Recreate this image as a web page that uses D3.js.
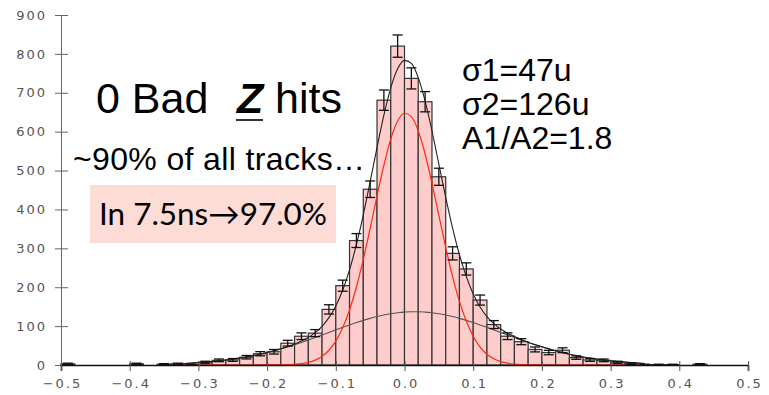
<!DOCTYPE html>
<html>
<head>
<meta charset="utf-8">
<script src="https://cdn.jsdelivr.net/npm/d3@7"></script>
<style>
  html, body { margin: 0; padding: 0; background: #fff; }
  svg { display: block; }
</style>
</head>
<body>
<svg id="chart"></svg>
<script>
// histogram: 50 bins of width 0.02 from -0.5 to 0.5
const binWidth = 0.02;
const binLow = d3.range(50).map(i => (-50 + i * 2) / 100);
const counts = [
  3, 0, 0, 0, 0, 3, 0, 2, 3, 1,
  7, 12, 13, 20, 29, 34, 56, 74, 82, 143,
  204, 320, 452, 681, 820, 737, 677, 484, 287, 247,
  167, 104, 74, 60, 40, 32, 38, 19, 13, 12,
  7, 3, 1, 1, 1, 0, 2, 0, 0, 0
];

// fitted curves, sampled every 0.01 from -0.33 to 0.35
const fitX = d3.range(69).map(i => (-33 + i) / 100);
const narrowFit = [
  0, 0, 0, 0, 0, 0, 0, 0, 0, 0, 0, 0, 0,
  0.1, 0.2, 0.4, 0.8, 1.7, 3.5, 6.8, 12.6, 22.3, 37.9,
  61.5, 95.5, 141.5, 200.5, 271.5, 351.4, 434.7, 513.9, 580.8, 627.2,
  647.4, 638.7, 602.2, 542.6, 467.4, 384.7, 302.6, 227.5, 163.5, 112.3,
  73.7, 46.2, 27.7, 15.9, 8.7, 4.6, 2.3, 1.1, 0.5, 0.2, 0.1,
  0, 0, 0, 0, 0, 0, 0, 0, 0, 0, 0, 0, 0, 0, 0
];
const wideFit = [
  3.2, 4.0, 4.9, 6.0, 7.3, 8.8, 10.6, 12.7, 15.0, 17.7, 20.7, 24.1, 27.8,
  31.9, 36.5, 41.4, 46.6, 52.2, 58.1, 64.3, 70.7, 77.2, 83.8,
  90.3, 96.8, 103.1, 109.1, 114.8, 119.9, 124.5, 128.5, 131.8, 134.3,
  136.0, 136.9, 136.9, 136.0, 134.3, 131.8, 128.5, 124.5, 119.9, 114.8,
  109.1, 103.1, 96.8, 90.3, 83.8, 77.2, 70.7, 64.3, 58.1, 52.2, 46.6,
  41.4, 36.5, 31.9, 27.8, 24.1, 20.7, 17.7, 15.0, 12.7, 10.6, 8.8, 7.3, 6.0, 4.9, 4.0
];
const totalFit = [
  3.2, 4.0, 4.9, 6.0, 7.3, 8.8, 10.6, 12.7, 15.0, 17.7, 20.7, 24.1, 27.8,
  32.0, 36.7, 41.8, 47.4, 53.9, 61.6, 71.1, 83.3, 99.5, 121.7,
  151.8, 192.3, 244.6, 309.6, 386.3, 471.3, 559.2, 642.4, 712.6, 761.5,
  783.4, 775.6, 739.1, 678.6, 601.7, 516.5, 431.1, 352.0, 283.4, 227.1,
  182.8, 149.3, 124.5, 106.2, 92.5, 81.8, 73.0, 65.4, 58.6, 52.4, 46.7,
  41.4, 36.5, 31.9, 27.8, 24.1, 20.7, 17.7, 15.0, 12.7, 10.6, 8.8, 7.3, 6.0, 4.9, 4.0
];

const xTicks = [-0.5, -0.4, -0.3, -0.2, -0.1, 0.0, 0.1, 0.2, 0.3, 0.4, 0.5];
const yTicks = [0, 100, 200, 300, 400, 500, 600, 700, 800, 900];

const width = 769, height = 395;
const svg = d3.select("#chart").attr("width", width).attr("height", height);

const x = d3.scaleLinear().domain([-0.5, 0.5]).range([61, 748]);
const y = d3.scaleLinear().domain([0, 900]).range([365, 15]);

// bars
const bins = binLow.map((lo, i) => ({ lo, n: counts[i] })).filter(d => d.n > 0);
svg.append("g")
  .selectAll("rect")
  .data(bins)
  .join("rect")
  .attr("x", d => x(d.lo))
  .attr("y", d => y(d.n))
  .attr("width", d => x(d.lo + binWidth) - x(d.lo))
  .attr("height", d => y(0) - y(d.n))
  .attr("fill", "#ffcccc")
  .attr("stroke", "#333")
  .attr("stroke-width", 1.2);

// fit curves
const fitLine = (vals) => d3.line()
  .x((d, i) => x(fitX[i]))
  .y(d => y(d))
  .curve(d3.curveMonotoneX)(vals);

svg.append("path").attr("d", fitLine(wideFit))
  .attr("fill", "none").attr("stroke", "#555").attr("stroke-width", 1.1);
svg.append("path").attr("d", fitLine(narrowFit))
  .attr("fill", "none").attr("stroke", "#ff2a10").attr("stroke-width", 1.2);
svg.append("path").attr("d", fitLine(totalFit))
  .attr("fill", "none").attr("stroke", "#222").attr("stroke-width", 1.1);

// error bars (sqrt N)
const eb = svg.append("g").attr("stroke", "#111").attr("stroke-width", 1.3);
bins.forEach(d => {
  const cx = x(d.lo + binWidth / 2);
  const e = Math.sqrt(d.n);
  const y1 = y(d.n + e), y2 = y(Math.max(0, d.n - e));
  eb.append("line").attr("x1", cx).attr("x2", cx).attr("y1", y1).attr("y2", y2);
  eb.append("line").attr("x1", cx - 5).attr("x2", cx + 5).attr("y1", y1).attr("y2", y1);
  eb.append("line").attr("x1", cx - 5).attr("x2", cx + 5).attr("y1", y2).attr("y2", y2);
});

// axes
const tickFont = g => g.selectAll("text")
  .attr("font-family", "DejaVu Sans")
  .attr("font-size", 13)
  .attr("letter-spacing", "2px")
  .attr("fill", "#555");

const yAxis = svg.append("g")
  .attr("transform", `translate(${x(-0.5)},0)`)
  .call(d3.axisLeft(y).tickValues(yTicks).tickFormat(d3.format("d")).tickSize(6).tickPadding(8));
yAxis.select(".domain").attr("stroke", "#666").attr("stroke-width", 1);
yAxis.selectAll(".tick line").attr("x1", 7).attr("stroke", "#666");
yAxis.call(tickFont);

const xAxis = svg.append("g")
  .attr("transform", `translate(0,${y(0)})`)
  .call(d3.axisBottom(x).tickValues(xTicks).tickFormat(d3.format(".1f")).tickSize(6).tickPadding(8));
xAxis.select(".domain").attr("stroke", "#111").attr("stroke-width", 1.6);
xAxis.selectAll(".tick line").attr("y1", -4).attr("stroke", "#555");
xAxis.call(tickFont);
xAxis.selectAll("text").attr("dx", "1px");

// annotations
const ann = svg.append("g").attr("font-family", "Liberation Sans, Arial, sans-serif").attr("fill", "#000");
ann.append("text").attr("x", 96).attr("y", 113).attr("font-size", 43).text("0 Bad");
ann.append("text").attr("x", 237).attr("y", 113).attr("font-size", 43)
  .attr("font-weight", "bold").attr("font-style", "italic").text("Z");
ann.append("line").attr("x1", 236).attr("x2", 263).attr("y1", 120).attr("y2", 120)
  .attr("stroke", "#000").attr("stroke-width", 1.6);
ann.append("text").attr("x", 275).attr("y", 113).attr("font-size", 43).text("hits");

ann.append("text").attr("x", 73).attr("y", 170).attr("font-size", 32)
  .attr("textLength", 292).attr("lengthAdjust", "spacing")
  .text("~90% of all tracks…");

svg.append("rect").attr("x", 90).attr("y", 185).attr("width", 246).attr("height", 58)
  .attr("fill", "#fcdcd4");
svg.append("text").attr("x", 99).attr("y", 225)
  .attr("font-family", "Lato, sans-serif").attr("font-size", 31)
  .attr("textLength", 228).attr("lengthAdjust", "spacingAndGlyphs")
  .text("In 7.5ns→97.0%");

const fitText = ["σ1=47u", "σ2=126u", "A1/A2=1.8"];
ann.selectAll(".fit").data(fitText).join("text")
  .attr("x", 462).attr("y", (d, i) => 81 + i * 34).attr("font-size", 32).text(d => d);
</script>
</body>
</html>
